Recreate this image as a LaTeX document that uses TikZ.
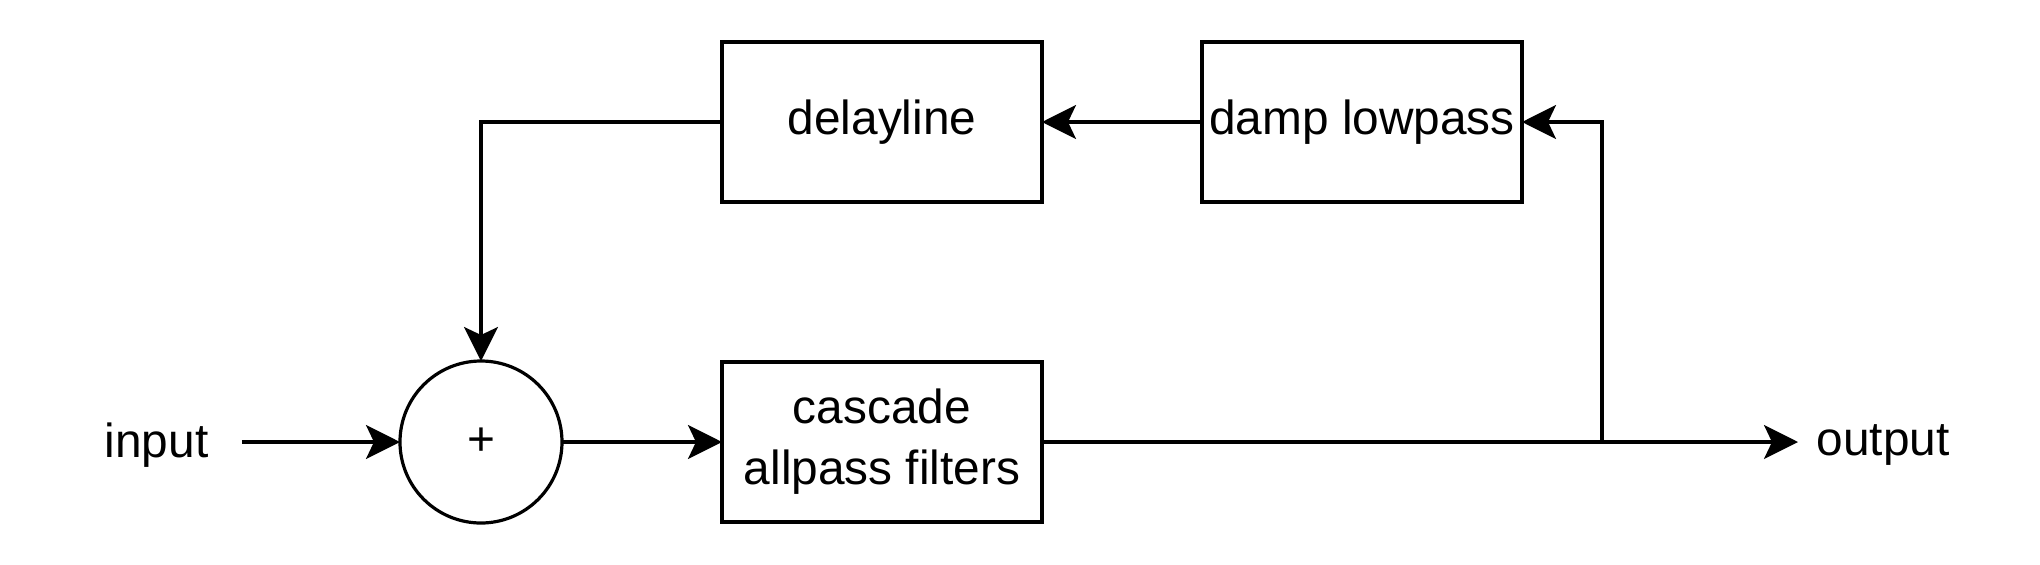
\documentclass[tikz,border=0pt]{standalone}
\usepackage{fontspec}
\setmainfont{Liberation Sans}
\usetikzlibrary{arrows.meta,positioning}

\begin{document}
\begin{tikzpicture}[node distance=80pt,>={Stealth[length=17pt,width=17pt,inset=4pt]},line width=1.6pt,
    block/.style={draw,minimum width=160pt,minimum height=80pt,align=center,outer sep=0pt,
      font=\fontsize{23.9}{30.5}\selectfont},
    adder/.style={draw,circle,minimum size=81pt,inner sep=0pt,outer sep=0pt,font=\fontsize{23.9}{28}\selectfont},
    label/.style={font=\fontsize{23.9}{28}\selectfont,inner sep=0pt,yshift=-1.5pt}]
    \useasboundingbox (-240.5pt,-61pt) rectangle (779.5pt,221pt);
    \node[adder] (sum){+};
    \node[block,right=of sum] (cascade){cascade\\allpass filters};
    \node[block,above=of cascade] (delay){delayline};
    \node[block,right=of delay] (damp){damp lowpass};
    \coordinate[left=79pt of sum.west] (in);
    \coordinate[right=378pt of cascade.east] (out);
    \path (damp.east) ++(40pt,0) coordinate (tap);
    \node[label,left=16pt of in] (inlabel){input};
    \node[label,right=8.5pt of out] (outlabel){output};
    \draw[->] (in)--(sum);
    \draw[->] (sum)--(cascade);
    \draw[->] (cascade.east)--(out);
    \draw[->] (cascade.east -| tap)|-(damp.east);
    \draw[->] (damp)--(delay);
    \draw[->] (delay.west)-|(sum.north);
  \end{tikzpicture}
\end{document}
